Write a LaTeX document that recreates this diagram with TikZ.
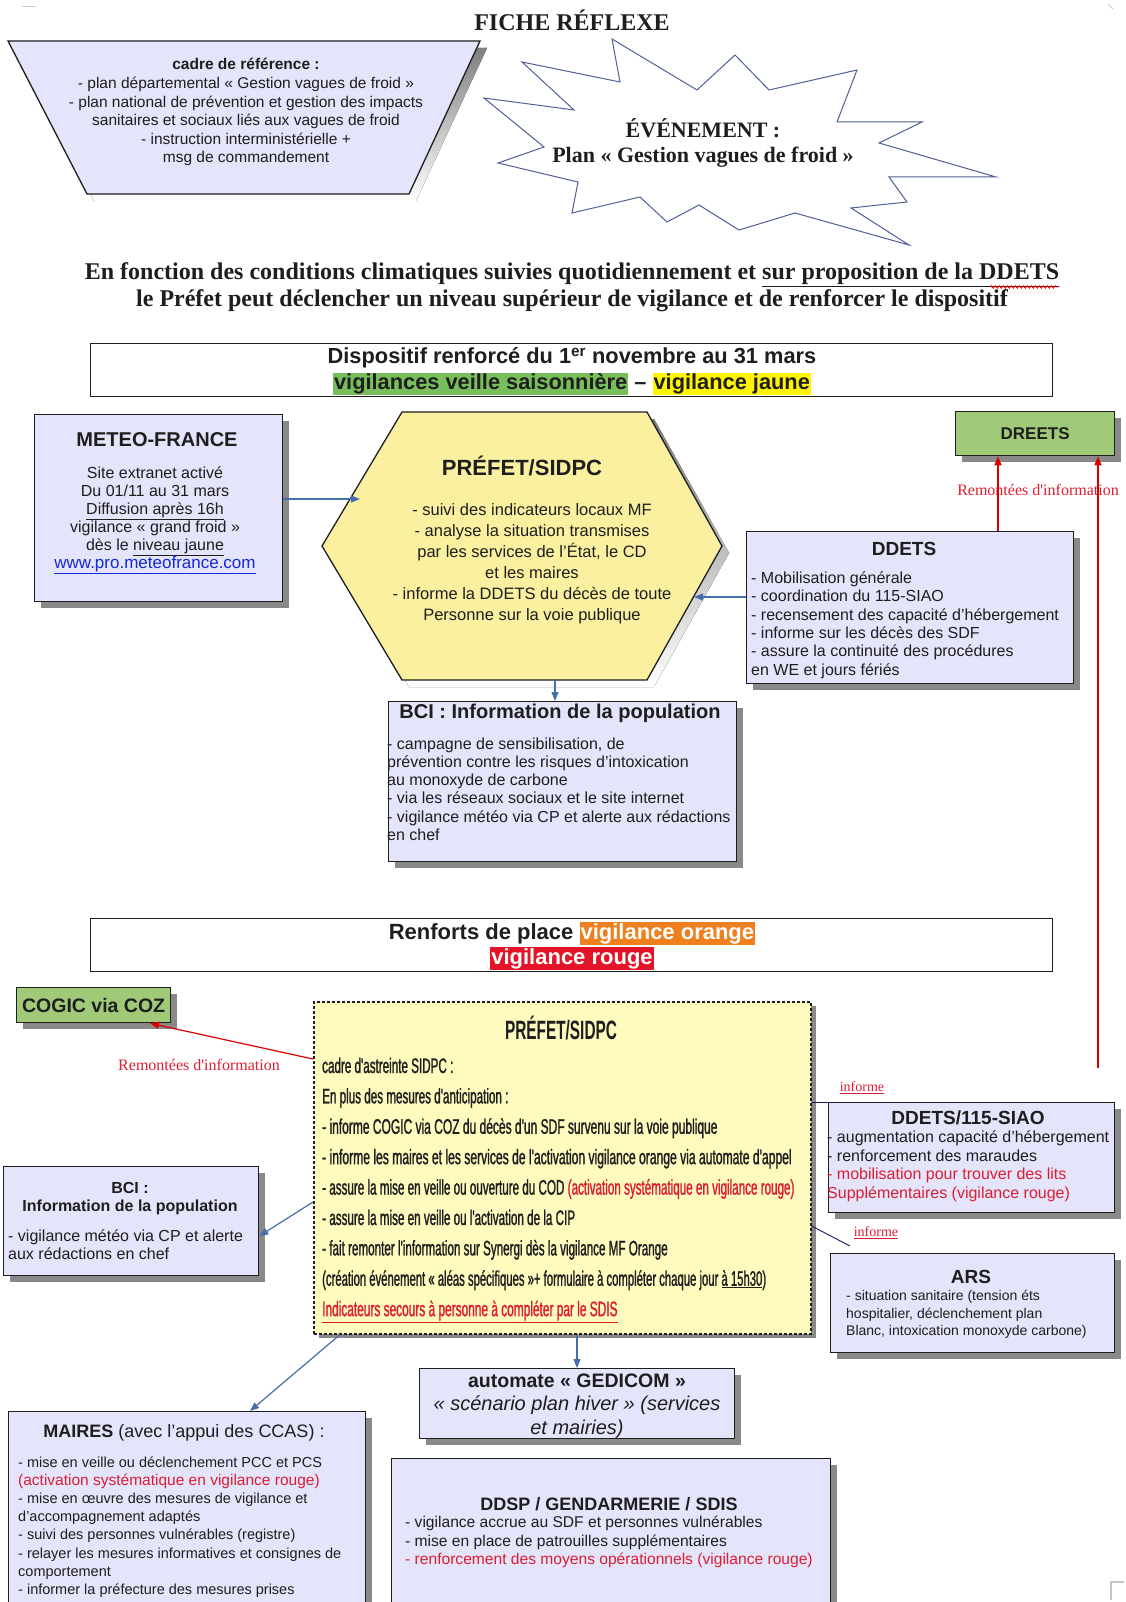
\documentclass[tikz,border=0pt]{standalone}
\usepackage{fontspec}
\setmainfont{Liberation Sans}
\newfontfamily\seriffont{Liberation Serif}
\newfontfamily\narrowfont[FakeStretch=0.58]{Liberation Sans}
\newfontfamily\narrowbody[FakeStretch=0.555, FakeBold=1.2]{Liberation Sans}
\usetikzlibrary{shadows,arrows.meta,decorations.pathmorphing,calc}
\definecolor{lav}{RGB}{228,228,250}
\definecolor{hexy}{RGB}{250,240,160}
\definecolor{lighty}{RGB}{255,251,190}
\definecolor{grn}{RGB}{160,202,120}
\definecolor{arrowblue}{RGB}{70,110,170}
\definecolor{starblue}{RGB}{80,95,150}
\definecolor{shade}{RGB}{125,125,125}
\definecolor{hlgreen}{RGB}{120,190,90}
\definecolor{hlyellow}{RGB}{255,245,0}
\definecolor{hlorange}{RGB}{240,128,30}
\definecolor{hlred}{RGB}{228,20,40}
\definecolor{txtred}{RGB}{220,30,50}
\definecolor{ink}{RGB}{30,30,30}
\definecolor{linkblue}{RGB}{20,40,220}
\newcommand\fsz[2]{\fontsize{#1}{#2}\selectfont}
\newcommand\fl{\rule{0pt}{0.75em}}
\newcommand\xs[2]{\scalebox{#1}[1]{#2}}
\tikzset{
  box/.style={draw=ink, line width=1.3pt, fill=lav, anchor=north west, inner sep=0pt,
    drop shadow={shadow xshift=6pt, shadow yshift=-6pt, fill=shade, opacity=0.9}},
  gbox/.style={box, fill=grn},
  plainbox/.style={draw=ink, line width=1.3pt, fill=white, anchor=north west, inner sep=0pt},
  txt/.style={inner sep=0pt, text=ink},
  bodyc/.style={txt, align=center, anchor=north},
  bodyl/.style={txt, align=left, anchor=north west},
  blarrow/.style={draw=arrowblue, line width=1.2pt, -{Triangle[length=9pt,width=7pt]}},
  redarrow/.style={draw=red!85!black, line width=1.2pt, -{Triangle[length=9pt,width=7pt]}},
  thinlink/.style={draw=ink!70!blue, line width=0.9pt},
  redlab/.style={txt, text=txtred, font=\seriffont\fsz{16}{18}},
}
\begin{document}
\begin{tikzpicture}[x=1pt,y=-1pt]
\useasboundingbox (0,0) rectangle (1125,1602);
\fill[white] (0,0) rectangle (1125,1602);
% corner marks
\draw[gray!40, line width=1pt] (22,7) -- (36,7);
\draw[gray!40, line width=1pt] (1108,4) -- (1113,9);
\draw[gray!45, line width=1.2pt] (1124,1582) -- (1111,1582) -- (1111,1600);

% title
\node[txt, anchor=base, font=\seriffont\bfseries\fsz{24}{27}] (title) at (572,31) {FICHE RÉFLEXE};

% trapezoid
\begin{scope}[xshift=7pt, yshift=-7pt]
\fill[shade] (8,41) -- (480,41) -- (409,194) -- (87,194) -- cycle;
\end{scope}
\filldraw[fill=lav, draw=ink, line width=1.3pt] (8,41) -- (480,41) -- (409,194) -- (87,194) -- cycle;
\node[bodyc, font=\fsz{15.5}{18.6}] (cadre) at (246,58) {\fl\textbf{cadre de référence :}\\
- plan départemental « Gestion vagues de froid »\\
- plan national de prévention et gestion des impacts\\
sanitaires et sociaux liés aux vagues de froid\\
- instruction interministérielle +\\
msg de commandement};

% star
\filldraw[fill=white, draw=starblue, line width=1pt] (522,62) -- (620,82) -- (612,39) -- (697,90) -- (735,55) -- (769,90) -- (857,70) -- (837,122) -- (922,122) -- (879,143) -- (996,177) -- (889,177) -- (907,202) -- (851,208) -- (909,245) -- (795,213) -- (739,230) -- (699,205) -- (667,222) -- (640,197) -- (572,213) -- (578,182) -- (498,163) -- (544,147) -- (484,98) -- (574,110) -- cycle;
\node[bodyc, font=\seriffont\bfseries\fsz{22}{25.5}] (event) at (703,118) {ÉVÉNEMENT :\\Plan « Gestion vagues de froid »};

% paragraph
\node[bodyc, font=\seriffont\bfseries\fsz{24}{27}] (para) at (572,261) {\fl En fonction des conditions climatiques suivies quotidiennement et \underline{sur proposition de la DDETS}\\
le Préfet peut déclencher un niveau supérieur de vigilance et de renforcer le dispositif};
\draw[red, line width=0.8pt, decorate, decoration={snake, amplitude=1.3pt, segment length=4pt}] (990,287) -- (1058,287);

% dispositif header
\node[plainbox, minimum width=962pt, minimum height=53pt] (disp) at (90,343) {};
\node[bodyc, font=\bfseries\fsz{21.8}{26}\setlength{\fboxsep}{1pt}] (disptxt) at (572,347) {\fl Dispositif renforcé du 1\textsuperscript{er} novembre au 31 mars\\
\colorbox{hlgreen}{vigilances veille saisonnière} – \colorbox{hlyellow}{vigilance jaune}};

% METEO-FRANCE
\node[box, minimum width=248pt, minimum height=187pt] (meteo) at (34,414) {};
\node[txt, anchor=base, font=\bfseries\fsz{20}{22}] (meteot) at (157,446) {METEO-FRANCE};
\node[bodyc, font=\fsz{16}{18}] (meteob) at (155,466) {\fl Site extranet activé\\
Du 01/11 au 31 mars\\
\underline{Diffusion après 16h}\\
vigilance « grand froid »\\
dès le \underline{niveau jaune}\\
{\fsz{17}{18}\color{linkblue}\underline{www.pro.meteofrance.com}}};

% hexagon
\begin{scope}[xshift=7pt, yshift=-7pt]
\fill[shade] (402,412) -- (647,412) -- (722,546) -- (647,680) -- (402,680) -- (322,546) -- cycle;
\end{scope}
\filldraw[fill=hexy, draw=ink, line width=1.3pt] (402,412) -- (647,412) -- (722,546) -- (647,680) -- (402,680) -- (322,546) -- cycle;
\coordinate (hexW) at (360,499);
\coordinate (hexE) at (694,597);
\coordinate (hexS) at (555,680);
\node[txt, anchor=base, font=\bfseries\fsz{22}{24}] (hext) at (522,475) {PRÉFET/SIDPC};
\node[bodyc, font=\fsz{16.5}{21}] (hexb) at (532,503) {\fl - suivi des indicateurs locaux MF\\
- analyse la situation transmises\\
par les services de l'État, le CD\\
et les maires\\
- informe la DDETS du décès de toute\\
Personne sur la voie publique};

% DREETS
\node[gbox, minimum width=159pt, minimum height=44pt] (dreets) at (955,411) {};
\node[txt, font=\bfseries\fsz{17}{20}] (dreetst) at (dreets.center) {DREETS};

% DDETS
\node[box, minimum width=327pt, minimum height=152pt] (ddets) at (746,531) {};
\node[txt, anchor=base, font=\bfseries\fsz{19}{22}] (ddetst) at (904,555) {DDETS};
\node[bodyl, font=\fsz{16}{18.4}] (ddetsb) at (751,571) {\fl - Mobilisation générale\\
- coordination du 115-SIAO\\
- recensement des capacité d'hébergement\\
- informe sur les décès des SDF\\
- assure la continuité des procédures\\
en WE et jours fériés};

% BCI top
\node[box, minimum width=348pt, minimum height=160pt] (bci) at (388,701) {};
\node[txt, anchor=base, font=\bfseries\fsz{20}{22}] (bcit) at (560,718) {BCI : Information de la population};
\node[bodyl, font=\fsz{16}{18.2}] (bcib) at (387,737) {\fl - campagne de sensibilisation, de\\
prévention contre les risques d'intoxication\\
au monoxyde de carbone\\
- via les réseaux sociaux et le site internet\\
- vigilance météo via CP et alerte aux rédactions\\
en chef};

% connectors top part
\draw[blarrow] (meteo.east |- hexW) -- (hexW);
\draw[blarrow] (ddets.west |- hexE) -- (hexE);
\draw[blarrow] (hexS) -- (hexS |- bci.north);
\node[redlab] (lab1) at (1038,490) {Remontées d'information};
\coordinate (r1) at (998,0);
\coordinate (r2s) at (1098,1068);
\draw[redarrow] (ddets.north -| r1) -- (dreets.south -| r1);
\draw[redarrow] (r2s) -- (dreets.south -| r2s);

% renforts header
\node[plainbox, minimum width=962pt, minimum height=53pt] (renf) at (90,918) {};
\node[bodyc, font=\bfseries\fsz{22}{25}\setlength{\fboxsep}{1pt}] (renft) at (572,922) {\fl Renforts de place \colorbox{hlorange}{\color{white}vigilance orange}\\
\colorbox{hlred}{\color{white}vigilance rouge}};

% COGIC
\node[gbox, minimum width=154pt, minimum height=35pt] (cogic) at (16,987) {};
\node[txt, font=\bfseries\fsz{19.5}{20}] (cogict) at (cogic.center) {COGIC via COZ};

% PREFET box
\node[draw=ink, line width=1.6pt, dash pattern=on 3pt off 2pt, fill=lighty, anchor=north west, inner sep=0pt,
  minimum width=497pt, minimum height=332pt,
  drop shadow={shadow xshift=5pt, shadow yshift=-4pt, fill=shade, opacity=0.9}] (pref) at (313,1001) {};
\node[txt, anchor=base, font=\narrowfont\bfseries\fsz{26.5}{28}] (preft) at (561,1039) {PRÉFET/SIDPC};
\node[bodyl, font=\narrowbody\fsz{21}{30.4}] (prefb) at (322,1057) {\fl cadre d'astreinte SIDPC :\\
En plus des mesures d'anticipation :\\
\xs{1.03}{- informe COGIC via COZ du décès d'un SDF survenu sur la voie publique}\\
\xs{1.04}{- informe les maires et les services de l'activation vigilance orange via automate d'appel}\\
- assure la mise en veille ou ouverture du COD {\color{txtred}(activation systématique en vigilance rouge)}\\
- assure la mise en veille ou l'activation de la CIP\\
- fait remonter l'information sur Synergi dès la vigilance MF Orange\\
\xs{0.97}{(création événement « aléas spécifiques »+ formulaire à compléter chaque jour \underline{à 15h30})}\\
{\color{txtred}\xs{1.02}{\underline{Indicateurs secours à personne à compléter par le SDIS}}}};

% BCI bottom
\node[box, minimum width=255pt, minimum height=109pt] (bci2) at (3,1166) {};
\node[bodyc, font=\bfseries\fsz{16}{18}] (bci2t) at (130,1181) {\fl BCI :\\Information de la population};
\node[bodyl, font=\fsz{16}{18}] (bci2b) at (8,1229) {\fl - vigilance météo via CP et alerte\\aux rédactions en chef};

% DDETS/115-SIAO
\node[box, minimum width=286pt, minimum height=110pt] (siao) at (828,1102) {};
\node[txt, anchor=base, font=\bfseries\fsz{19}{20}] (siaot) at (968,1124) {DDETS/115-SIAO};
\node[bodyl, font=\fsz{16}{18.8}] (siaob) at (827,1130) {\fl - augmentation capacité d'hébergement\\
- renforcement des maraudes\\
{\color{txtred}- mobilisation pour trouver des lits}\\
{\color{txtred}Supplémentaires (vigilance rouge)}};

% ARS
\node[box, minimum width=284pt, minimum height=99pt] (ars) at (830,1253) {};
\node[txt, anchor=base, font=\bfseries\fsz{19}{22}] (arst) at (971,1283) {ARS};
\node[bodyl, font=\fsz{14}{17.3}] (arsb) at (846,1290) {\fl - situation sanitaire (tension éts\\
hospitalier, déclenchement plan\\
Blanc, intoxication monoxyde carbone)};

% GEDICOM
\node[box, minimum width=315pt, minimum height=70pt] (ged) at (419,1368) {};
\node[bodyc, font=\fsz{20}{23.5}] (gedt) at (577,1372) {\fl{\fsz{19.5}{23.5}\textbf{automate « GEDICOM »}}\\
\textit{« scénario plan hiver » (services}\\
\textit{et mairies)}};

% MAIRES
\node[box, minimum width=357pt, minimum height=220pt] (maires) at (8,1411) {};
\node[txt, anchor=base, font=\fsz{18}{20}] (mairest) at (184,1437) {\textbf{MAIRES} (avec l'appui des CCAS) :};
\node[bodyl, font=\fsz{14.5}{18.2}] (mairesb) at (18,1456) {\fl - mise en veille ou déclenchement PCC et PCS\\
{\color{txtred}\fsz{15.5}{18.2}(activation systématique en vigilance rouge)}\\
- mise en œuvre des mesures de vigilance et\\
d'accompagnement adaptés\\
- suivi des personnes vulnérables (registre)\\
- relayer les mesures informatives et consignes de\\
comportement\\
- informer la préfecture des mesures prises};

% DDSP
\node[box, minimum width=439pt, minimum height=170pt] (ddsp) at (391,1458) {};
\node[txt, anchor=base, font=\bfseries\fsz{18}{20}] (ddspt) at (609,1510) {DDSP / GENDARMERIE / SDIS};
\node[bodyl, font=\fsz{15.6}{18.5}] (ddspb) at (405,1516) {\fl - vigilance accrue au SDF et personnes vulnérables\\
- mise en place de patrouilles supplémentaires\\
{\color{txtred}- renforcement des moyens opérationnels (vigilance rouge)}};

% connectors bottom part
\coordinate (c1) at (150,0);
\coordinate (p1) at (0,1059);
\draw[redarrow] (pref.west |- p1) -- (cogic.south -| c1);
\node[redlab] (lab2) at (199,1065) {Remontées d'information};
\coordinate (p2) at (0,1202);
\coordinate (q2) at (0,1236);
\draw[blarrow] (pref.west |- p2) -- (bci2.east |- q2);
\coordinate (g1) at (577,0);
\draw[blarrow] (pref.south -| g1) -- (ged.north -| g1);
\coordinate (m1) at (340,0);
\coordinate (m2) at (250,0);
\draw[blarrow] (pref.south -| m1) -- (maires.north -| m2);
\coordinate (i1) at (0,1102);
\draw[thinlink] (pref.east |- i1) -- (siao.north west);
\coordinate (i2) at (0,1226);
\coordinate (arsc) at (850,1246);
\draw[thinlink] (pref.east |- i2) -- (arsc);
\node[txt, text=txtred, font=\seriffont\fsz{14}{16}] (inf1) at (862,1088) {\underline{informe}};
\node[txt, text=txtred, font=\seriffont\fsz{14}{16}] (inf2) at (876,1233) {\underline{informe}};
\end{tikzpicture}
\end{document}
